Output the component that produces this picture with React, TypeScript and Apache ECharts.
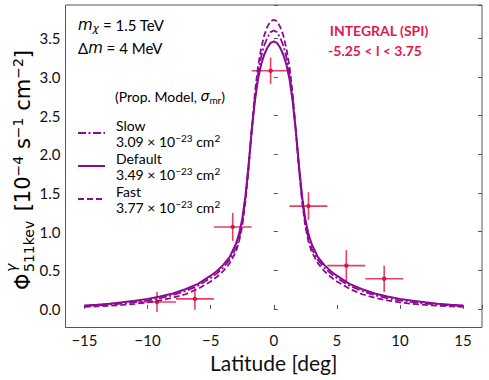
import React, { useEffect, useRef } from "react";
import * as echarts from "echarts";

// Latitude grid (deg)
const LAT = [
  -15, -14, -13, -12, -11, -10, -9, -8, -7, -6, -5, -4.5, -4, -3.5, -3, -2.75, -2.5, -2.25, -2, -1.75, -1.5, -1.25, -1, -0.75, -0.5, -0.25,
  0,
  0.25, 0.5, 0.75, 1, 1.25, 1.5, 1.75, 2, 2.25, 2.5, 2.75, 3, 3.5, 4, 4.5, 5, 6, 7, 8, 9, 10, 11, 12, 13, 14, 15,
];

// Model profiles (10^-4 s^-1 cm^-2)
const DEFAULT_FLUX = [
  0.045, 0.055, 0.068, 0.085, 0.105, 0.13, 0.16, 0.2, 0.255, 0.325, 0.43, 0.49, 0.57, 0.67, 0.84, 0.97, 1.16, 1.45, 1.85, 2.3, 2.68, 2.97, 3.16, 3.29, 3.38, 3.44,
  3.46,
  3.44, 3.38, 3.29, 3.16, 2.97, 2.68, 2.3, 1.85, 1.45, 1.16, 0.97, 0.84, 0.67, 0.57, 0.49, 0.43, 0.325, 0.255, 0.2, 0.16, 0.13, 0.105, 0.085, 0.068, 0.055, 0.045,
];
const SLOW_FLUX = [
  0.037, 0.045, 0.056, 0.07, 0.088, 0.11, 0.14, 0.178, 0.23, 0.3, 0.4, 0.46, 0.535, 0.635, 0.78, 0.91, 1.11, 1.42, 1.84, 2.31, 2.73, 3.04, 3.26, 3.41, 3.51, 3.58,
  3.6,
  3.58, 3.51, 3.41, 3.26, 3.04, 2.73, 2.31, 1.84, 1.42, 1.11, 0.91, 0.78, 0.635, 0.535, 0.46, 0.4, 0.3, 0.23, 0.178, 0.14, 0.11, 0.088, 0.07, 0.056, 0.045, 0.037,
];
const FAST_FLUX = [
  0.027, 0.033, 0.041, 0.052, 0.066, 0.085, 0.11, 0.145, 0.19, 0.26, 0.355, 0.415, 0.49, 0.59, 0.74, 0.87, 1.07, 1.38, 1.8, 2.3, 2.78, 3.13, 3.37, 3.54, 3.65, 3.72,
  3.74,
  3.72, 3.65, 3.54, 3.37, 3.13, 2.78, 2.3, 1.8, 1.38, 1.07, 0.87, 0.74, 0.59, 0.49, 0.415, 0.355, 0.26, 0.19, 0.145, 0.11, 0.085, 0.066, 0.052, 0.041, 0.033, 0.027,
];

// INTEGRAL/SPI data points
const DATA_LAT = [-9.25, -6.25, -3.25, -0.25, 2.75, 5.75, 8.75];
const DATA_FLUX = [0.09, 0.13, 1.06, 3.08, 1.33, 0.56, 0.39];
const DATA_XERR = [1.5, 1.5, 1.5, 1.5, 1.5, 1.5, 1.5];
const DATA_YERR = [0.13, 0.14, 0.18, 0.17, 0.18, 0.2, 0.17];

const SERIES_NAMES = ["Slow", "Default", "Fast"];
const SIGMA_LABELS = ["3.09", "3.49", "3.77"];

const PURPLE = "#8b0a94";
const RED = "#e3194d";
const FRAME = "#555";

const X_MIN = -16.5;
const X_MAX = 16.5;
const Y_MIN = -0.24;
const Y_MAX = 3.93;

const fmtX = (v: number) =>
  Math.abs(v / 5 - Math.round(v / 5)) < 1e-6 ? String(Math.round(v)).replace("-", "\u2212") : "";
const fmtY = (v: number) =>
  Math.abs(v / 0.5 - Math.round(v / 0.5)) < 1e-6 ? v.toFixed(1).replace("-", "\u2212") : "";

export default function App() {
  const ref = useRef<HTMLDivElement>(null);
  useEffect(() => {
    if (!ref.current) return;
    const chart = echarts.init(ref.current, null, { renderer: "svg" });

    const pair = (ys: number[]) => LAT.map((x, i) => [x, ys[i]]);
    const errData = DATA_LAT.map((x, i) => [x, DATA_FLUX[i], DATA_XERR[i], DATA_YERR[i]]);

    const supRich = {
      t: { fontFamily: "Lato", fontSize: 14, lineHeight: 16, color: "#000" },
      s: { fontFamily: "Lato", fontSize: 10, lineHeight: 8, verticalAlign: "top", color: "#000" },
    };

    const option: any = {
      animation: false,
      textStyle: { fontFamily: "Lato" },
      grid: {
        left: 65.5,
        right: 7,
        top: 5,
        bottom: 52.5,
        show: true,
        borderColor: FRAME,
        borderWidth: 1,
        backgroundColor: "transparent",
      },
      xAxis: [
        {
          type: "value",
          min: X_MIN,
          max: X_MAX,
          splitNumber: 6,
          axisLine: { show: false },
          axisTick: { inside: true, length: 4, lineStyle: { color: FRAME } },
          splitLine: { show: false },
          axisLabel: { formatter: fmtX, fontSize: 15, color: "#111", margin: 5, fontFamily: "Lato" },
          name: "Latitude [deg]",
          nameLocation: "middle",
          nameGap: 23,
          nameTextStyle: { fontSize: 21, color: "#111", fontFamily: "Lato" },
        },
      ],
      yAxis: [
        {
          type: "value",
          min: Y_MIN,
          max: Y_MAX,
          splitNumber: 8,
          axisLine: { show: false },
          axisTick: { inside: true, length: 4, lineStyle: { color: FRAME } },
          splitLine: { show: false },
          axisLabel: { formatter: fmtY, fontSize: 15, color: "#111", margin: 5, fontFamily: "Lato" },
        },
        {
          type: "value",
          position: "right",
          min: Y_MIN,
          max: Y_MAX,
          splitNumber: 8,
          axisLine: { show: false },
          axisTick: { inside: true, length: 4, lineStyle: { color: FRAME } },
          splitLine: { show: false },
          axisLabel: { show: false },
        },
      ],
      legend: {
        left: 72,
        top: 113,
        orient: "vertical",
        itemWidth: 27,
        itemHeight: 12,
        itemGap: 3,
        data: SERIES_NAMES,
        itemStyle: { color: "transparent", borderWidth: 0, opacity: 0 },
        textStyle: { rich: supRich, padding: [0, 0, 0, 6] },
        formatter: (name: string) => {
          const i = SERIES_NAMES.indexOf(name);
          return `{t|${name}}\n{t|${SIGMA_LABELS[i]} \u00d7 10}{s|\u221223}{t| cm}{s|2}`;
        },
      },
      series: [
        {
          type: "custom",
          name: "INTEGRAL",
          data: errData,
          z: 1,
          renderItem: (params: any, api: any) => {
            const x = api.value(0);
            const y = api.value(1);
            const xe = api.value(2);
            const ye = api.value(3);
            const c = api.coord([x, y]);
            const l = api.coord([x - xe, y]);
            const r = api.coord([x + xe, y]);
            const t = api.coord([x, y + ye]);
            const b = api.coord([x, y - ye]);
            const stroke = { stroke: "rgba(226,30,72,0.85)", lineWidth: 1.6 };
            return {
              type: "group",
              children: [
                { type: "line", shape: { x1: l[0], y1: l[1], x2: r[0], y2: r[1] }, style: stroke },
                { type: "line", shape: { x1: t[0], y1: t[1], x2: b[0], y2: b[1] }, style: stroke },
                { type: "circle", shape: { cx: c[0], cy: c[1], r: 2.2 }, style: { fill: "#d81444" } },
              ],
            };
          },
        },
        {
          type: "line",
          name: "Slow",
          data: pair(SLOW_FLUX),
          symbol: "none",
          z: 3,
          lineStyle: { color: PURPLE, width: 1.8, type: [8, 2.5, 2, 2.5] },
          itemStyle: { color: PURPLE },
        },
        {
          type: "line",
          name: "Default",
          data: pair(DEFAULT_FLUX),
          symbol: "none",
          z: 3,
          lineStyle: { color: PURPLE, width: 2 },
          itemStyle: { color: PURPLE },
        },
        {
          type: "line",
          name: "Fast",
          data: pair(FAST_FLUX),
          symbol: "none",
          z: 3,
          lineStyle: { color: PURPLE, width: 1.8, type: [6, 3] },
          itemStyle: { color: PURPLE },
        },
      ],
      graphic: [
        {
          type: "text",
          left: 78,
          top: 17,
          style: {
            text: "{i|m}{sub|\u03c7}{n| = 1.5 TeV}",
            rich: {
              i: { fontFamily: "DejaVu Sans", fontStyle: "italic", fontSize: 15, lineHeight: 18, fill: "#000" },
              sub: { fontFamily: "DejaVu Sans", fontStyle: "italic", fontSize: 11, lineHeight: 8, verticalAlign: "bottom", fill: "#000" },
              n: { fontFamily: "Lato", fontSize: 15, lineHeight: 18, fill: "#000" },
            },
          },
        },
        {
          type: "text",
          left: 78,
          top: 40,
          style: {
            text: "{n|\u0394}{i|m}{n| = 4 MeV}",
            rich: {
              i: { fontFamily: "DejaVu Sans", fontStyle: "italic", fontSize: 15, lineHeight: 18, fill: "#000" },
              n: { fontFamily: "Lato", fontSize: 15, lineHeight: 18, fill: "#000" },
            },
          },
        },
        {
          type: "text",
          left: 115,
          top: 89,
          style: {
            text: "{n|(Prop. Model, }{i|\u03c3}{sub|mr}{n|)}",
            rich: {
              n: { fontFamily: "Lato", fontSize: 14, lineHeight: 18, fill: "#000" },
              i: { fontFamily: "DejaVu Sans", fontStyle: "italic", fontSize: 14, lineHeight: 18, fill: "#000" },
              sub: { fontFamily: "Lato", fontSize: 10, lineHeight: 8, verticalAlign: "bottom", fill: "#000" },
            },
          },
        },
        {
          type: "text",
          x: 379,
          y: 30,
          style: {
            text: "INTEGRAL (SPI)",
            fontFamily: "Lato",
            fontWeight: "bold",
            fontSize: 14,
            fill: RED,
            align: "center",
            verticalAlign: "middle",
          },
        },
        {
          type: "text",
          x: 375,
          y: 50,
          style: {
            text: "-5.25 < l < 3.75",
            fontFamily: "Lato",
            fontWeight: "bold",
            fontSize: 14,
            fill: RED,
            align: "center",
            verticalAlign: "middle",
          },
        },
        {
          type: "group",
          x: 31,
          y: 290,
          rotation: Math.PI / 2,
          children: [
            {
              type: "text",
              x: 0,
              y: -8,
              style: { text: "\u03a6", fontFamily: "DejaVu Sans", fontSize: 21, fill: "#000", align: "left", verticalAlign: "middle" },
            },
            {
              type: "text",
              x: 18,
              y: -20,
              style: { text: "\u03b3", fontFamily: "DejaVu Sans", fontStyle: "italic", fontSize: 14, fill: "#000", align: "left", verticalAlign: "middle" },
            },
            {
              type: "text",
              x: 18,
              y: -2,
              style: { text: "511kev", fontFamily: "DejaVu Sans", fontSize: 14, fill: "#000", align: "left", verticalAlign: "middle" },
            },
            {
              type: "text",
              x: 72,
              y: -8,
              style: {
                text: "{n| [10}{s|\u22124}{n| s}{s|\u22121}{n| cm}{s|\u22122}{n|]}",
                align: "left",
                verticalAlign: "middle",
                rich: {
                  n: { fontFamily: "DejaVu Sans", fontSize: 21, lineHeight: 24, fill: "#000" },
                  s: { fontFamily: "DejaVu Sans", fontSize: 14, lineHeight: 10, verticalAlign: "top", fill: "#000" },
                },
              },
            },
          ],
        },
      ],
    };

    chart.setOption(option);
    return () => chart.dispose();
  }, []);

  return (
    <div
      ref={ref}
      style={{ position: "fixed", left: 0, top: 0, width: 489, height: 380, background: "#fff" }}
    />
  );
}
